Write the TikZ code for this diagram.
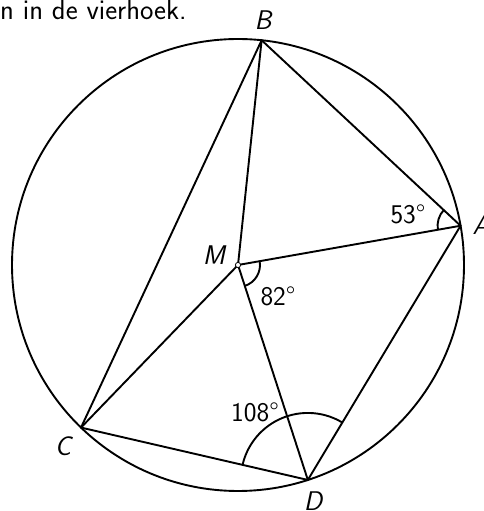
\documentclass[tikz,border=0pt]{standalone}
\usetikzlibrary{angles}
\begin{document}
\begin{tikzpicture}[x=1pt,y=1pt,
  geo/.style={line width=1.9pt, line cap=round, line join=round},
  anglearc/.style={draw, line width=1.9pt},
  lbl/.style={font=\fontsize{27}{32}\selectfont\sffamily\slshape, inner sep=0pt},
  num/.style={font=\fontsize{27}{32}\selectfont\sffamily, inner sep=0pt}]
\useasboundingbox (0,0) rectangle (484,511);
\begin{scope}[shift={(238,246)}]
  \coordinate (M) at (0,0);
  \coordinate (A) at (10:226);
  \coordinate (B) at (84:226);
  \coordinate (C) at (226:226);
  \coordinate (D) at (288:226);
\end{scope}
\draw[geo] (M) circle[radius=226];
\draw[geo] (A) -- (B) -- (C) -- (D) -- cycle;
\draw[geo] (M) -- (A);
\draw[geo] (M) -- (B);
\draw[geo] (M) -- (C);
\draw[geo] (M) -- (D);
\pic[anglearc, angle radius=22pt] {angle = D--M--A};
\pic[anglearc, angle radius=23pt] {angle = B--A--M};
\pic[anglearc, angle radius=67pt] {angle = A--D--C};
\draw[line width=0.8pt, fill=white] (M) circle[radius=2.6];
\node[lbl] (lM) at (214,256) {M};
\node[lbl] (lA) at (481,286) {A};
\node[lbl] (lB) at (263,491) {B};
\node[lbl] (lC) at (63,65) {C};
\node[lbl] (lD) at (313,10) {D};
\node[num] (n82) at (278,215) {82°};
\node[num] (n53) at (408,297) {53°};
\node[num] (n108) at (255,99) {108°};
\node[num, font=\fontsize{28.5}{34}\selectfont\sffamily, anchor=base west] (title) at (0,491.5) {n in de vierhoek.};
\end{tikzpicture}
\end{document}
